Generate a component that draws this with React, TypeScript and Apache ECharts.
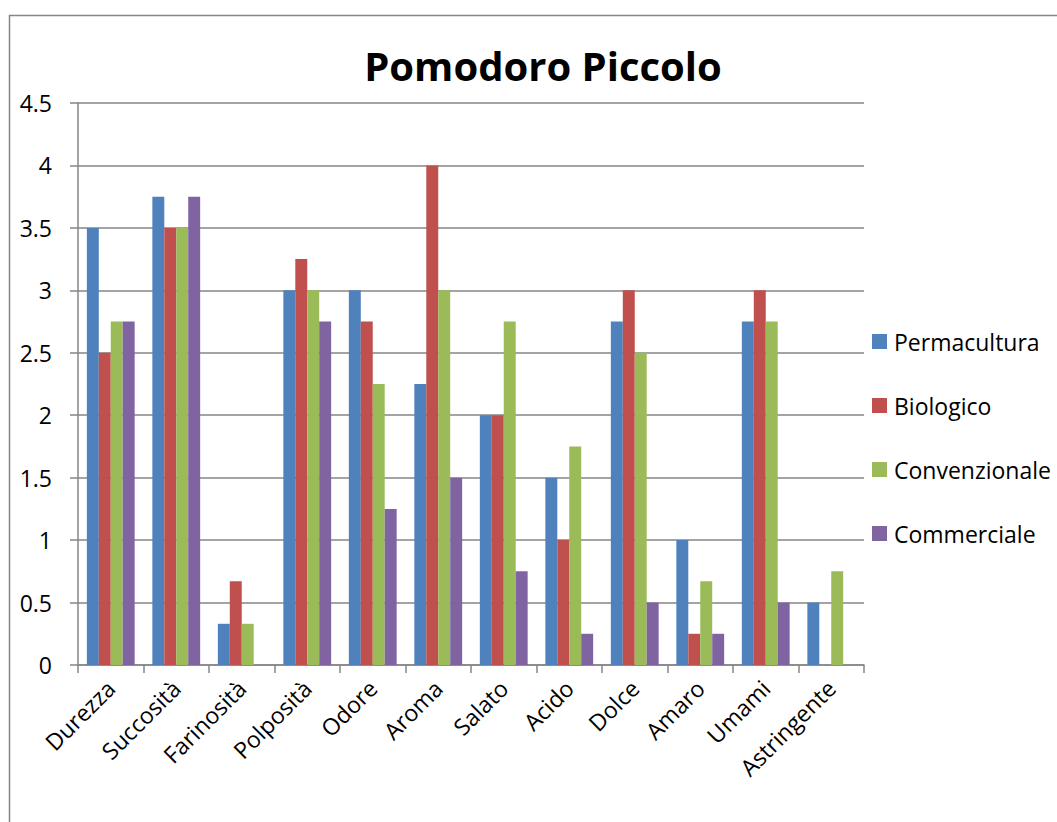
import React, { useEffect, useRef } from "react";
import * as echarts from "echarts";

const categories = ["Durezza", "Succosità", "Farinosità", "Polposità", "Odore", "Aroma", "Salato", "Acido", "Dolce", "Amaro", "Umami", "Astringente"];
const permacultura = [3.5, 3.75, 0.33, 3, 3, 2.25, 2, 1.5, 2.75, 1, 2.75, 0.5];
const biologico = [2.5, 3.5, 0.67, 3.25, 2.75, 4, 2, 1, 3, 0.25, 3, 0];
const convenzionale = [2.75, 3.5, 0.33, 3, 2.25, 3, 2.75, 1.75, 2.5, 0.67, 2.75, 0.75];
const commerciale = [2.75, 3.75, 0, 2.75, 1.25, 1.5, 0.75, 0.25, 0.5, 0.25, 0.5, 0];
const seriesNames = ["Permacultura", "Biologico", "Convenzionale", "Commerciale"];
const colors = ["#4F81BD", "#C0504D", "#9BBB59", "#8064A2"];

const FONT = "'Open Sans', 'Noto Sans', sans-serif";
const GRAY = "#868686";

export default function App() {
  const ref = useRef<HTMLDivElement>(null);
  useEffect(() => {
    if (!ref.current) return;
    const chart = echarts.init(ref.current, undefined, { renderer: "svg" });
    const values = [permacultura, biologico, convenzionale, commerciale];
    chart.setOption({
      animation: false,
      backgroundColor: "#ffffff",
      textStyle: { fontFamily: FONT },
      title: {
        text: "Pomodoro Piccolo",
        left: 538,
        top: 40,
        textAlign: "center",
        textStyle: { fontFamily: FONT, fontSize: 40, fontWeight: "bold", color: "#000" },
      },
      graphic: [
        {
          type: "rect",
          shape: { x: 9.5, y: 15.5, width: 1200, height: 1000 },
          style: { fill: "none", stroke: GRAY, lineWidth: 1.5 },
          silent: true,
        },
      ],
      legend: {
        orient: "vertical",
        left: 867,
        top: 325,
        itemWidth: 15,
        itemHeight: 15,
        itemGap: 41,
        icon: "rect",
        textStyle: { fontFamily: FONT, fontSize: 23, color: "#000", padding: [0, 0, 0, 2] },
        data: seriesNames,
      },
      grid: { left: 78, right: 193, top: 103, bottom: 157, containLabel: false },
      xAxis: {
        type: "category",
        data: categories,
        axisLine: { show: true, lineStyle: { color: GRAY, width: 1.5 } },
        axisTick: { show: true, length: 8, lineStyle: { color: GRAY, width: 1.5 } },
        axisLabel: { rotate: 45, fontSize: 23, color: "#000", fontFamily: FONT, margin: 19, interval: 0 },
      },
      yAxis: {
        type: "value",
        min: 0,
        max: 4.5,
        interval: 0.5,
        axisLine: { show: true, lineStyle: { color: GRAY, width: 1.5 } },
        axisTick: { show: true, length: 8, lineStyle: { color: GRAY, width: 1.5 } },
        axisLabel: { fontSize: 23, color: "#000", fontFamily: FONT, margin: 26 },
        splitLine: { show: true, lineStyle: { color: GRAY, width: 1.5 } },
      },
      series: seriesNames.map((name, i) => ({
        name,
        type: "bar",
        data: values[i],
        barGap: "0%",
        barCategoryGap: "27%",
        itemStyle: { color: colors[i] },
      })),
    });
    return () => chart.dispose();
  }, []);
  return <div ref={ref} style={{ position: "absolute", left: 0, top: 0, width: 1057, height: 822 }} />;
}
